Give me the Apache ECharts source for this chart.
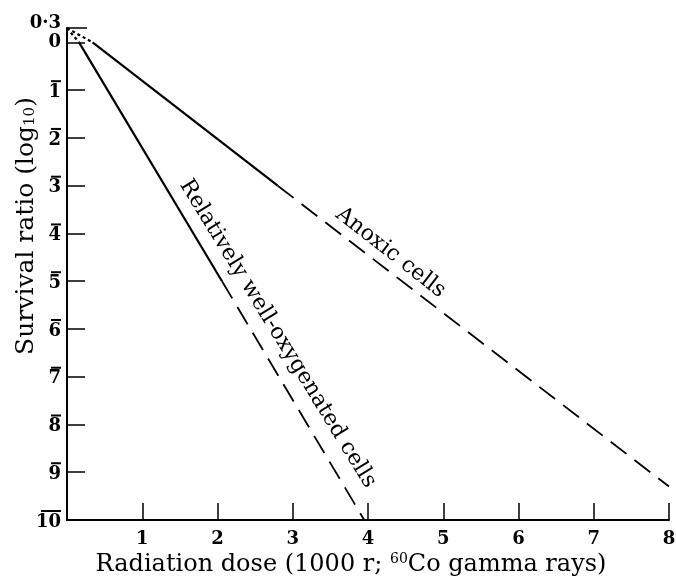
<!DOCTYPE html>
<html>
<head>
<meta charset="utf-8">
<script src="https://cdn.jsdelivr.net/npm/echarts@6/dist/echarts.min.js"></script>
<style>
  html, body { margin: 0; padding: 0; background: #fff; }
  #chart { width: 676px; height: 581px; }
</style>
</head>
<body>
<div id="chart"></div>
<script>
// values (x: dose in 1000 r, y: log10 survival ratio)
const yTicks = [-10, -9, -8, -7, -6, -5, -4, -3, -2, -1, 0]
const yTopTick = [0.3]
const xTicks = [1, 2, 3, 4, 5, 6, 7, 8]

const oxyDotted = [[0, 0.3], [0.16, 0]]
const oxySolid = [[0.16, 0], [2.06, -5]]
const oxyDashed = [[2.06, -5], [3.95, -10]]

const anoxDotted = [[0, 0.3], [0.34, 0]]
const anoxSolid = [[0.34, 0], [2.8, -3]]
const anoxDashed = [[2.8, -3], [8, -9.3]]

const FONT = 'DejaVu Serif'
const Y_MIN = -10
const Y_MAX = 0.302

// log notation: negative characteristic written with a bar over it
function barLabel (v) {
  if (Math.abs(v - 0.3) < 1e-6) return '{top|0·3}'
  if (v === 0) return '{num|0}'
  const n = String(-v)
  return '{bar' + n.length + '|}\n{num|' + n + '}'
}

const labelRich = {
  num: { fontFamily: FONT, fontSize: 18, fontWeight: 'bold', color: '#000', lineHeight: 18, align: 'right' },
  top: { fontFamily: FONT, fontSize: 18, fontWeight: 'bold', color: '#000', lineHeight: 18, align: 'right', padding: [0, 0, 10, 0] },
  bar1: { width: 10, height: 2, backgroundColor: '#000', align: 'right', lineHeight: 4 },
  bar2: { width: 20, height: 2, backgroundColor: '#000', align: 'right', lineHeight: 4 }
}

function lineSeries (data, type, width) {
  return {
    type: 'line',
    data: data,
    symbol: 'none',
    silent: true,
    lineStyle: {
      color: '#000',
      width: width,
      type: type,
      cap: 'butt'
    }
  }
}

const chart = echarts.init(document.getElementById('chart'))
chart.setOption({
  animation: false,
  backgroundColor: '#fff',
  grid: { left: 67, right: 7, top: 28, bottom: 61, outerBoundsMode: 'none', containLabel: false },
  xAxis: {
    type: 'value',
    min: 0,
    max: 8,
    interval: 1,
    name: 'Radiation dose (1000 r; {sup|60}Co gamma rays)',
    nameLocation: 'middle',
    nameGap: 32,
    nameMoveOverlap: false,
    nameTextStyle: {
      fontFamily: FONT, fontSize: 24, color: '#000',
      padding: [0, 34, 0, 0],
      rich: { sup: { fontFamily: FONT, fontSize: 14, verticalAlign: 'top', padding: [0, 0, 12, 0], color: '#000' } }
    },
    axisLine: { onZero: false, lineStyle: { color: '#000', width: 2 } },
    axisTick: { inside: true, length: 17, customValues: xTicks, lineStyle: { color: '#000', width: 1.5 } },
    axisLabel: {
      customValues: xTicks,
      margin: 10,
      fontFamily: FONT, fontSize: 18, fontWeight: 'bold', color: '#000'
    },
    splitLine: { show: false }
  },
  yAxis: [
    {
      type: 'value',
      min: Y_MIN,
      max: Y_MAX,
      name: 'Survival ratio (log{sub|10})',
      nameLocation: 'middle',
      nameRotate: 90,
      nameGap: 28,
      nameMoveOverlap: false,
      nameTextStyle: {
        fontFamily: FONT, fontSize: 25, color: '#000',
        padding: [0, 0, 0, 96],
        rich: { sub: { fontFamily: FONT, fontSize: 15, color: '#000', padding: [8, 0, 0, 0] } }
      },
      axisLine: { onZero: false, lineStyle: { color: '#000', width: 2 } },
      axisTick: { inside: true, length: 18, customValues: yTicks, lineStyle: { color: '#000', width: 1.5 } },
      axisLabel: {
        customValues: yTicks,
        margin: 6,
        hideOverlap: false,
        formatter: barLabel,
        rich: labelRich
      },
      splitLine: { show: false }
    },
    {
      // the 0·3 mark at the top sits too close to 0 to share one axis
      type: 'value',
      position: 'left',
      offset: 0,
      min: Y_MIN,
      max: Y_MAX,
      axisLine: { show: false, onZero: false },
      axisTick: { inside: true, length: 20, customValues: yTopTick, lineStyle: { color: '#000', width: 1.5 } },
      axisLabel: {
        customValues: yTopTick,
        margin: 6,
        hideOverlap: false,
        formatter: barLabel,
        rich: labelRich
      },
      splitLine: { show: false }
    }
  ],
  series: [
    lineSeries(oxyDotted, [3, 3], 2.2),
    lineSeries(oxySolid, 'solid', 2.2),
    lineSeries(oxyDashed, [20, 10], 1.8),
    lineSeries(anoxDotted, [3, 3], 2.2),
    lineSeries(anoxSolid, 'solid', 2.2),
    lineSeries(anoxDashed, [20, 10], 1.8)
  ]
})

// curve labels placed along the lines, positioned through the axes
const a = chart.convertToPixel({ gridIndex: 0 }, [4.3, -4.4])
const o = chart.convertToPixel({ gridIndex: 0 }, [2.8, -6.1])
chart.setOption({
  graphic: [
    {
      type: 'text', x: a[0], y: a[1], rotation: -38 * Math.PI / 180,
      style: { text: 'Anoxic cells', font: '22px "DejaVu Serif"', fill: '#000', align: 'center', verticalAlign: 'middle' }
    },
    {
      type: 'text', x: o[0], y: o[1], rotation: -58.5 * Math.PI / 180,
      style: { text: 'Relatively well-oxygenated cells', font: '22px "DejaVu Serif"', fill: '#000', align: 'center', verticalAlign: 'middle' }
    }
  ]
})
</script>
</body>
</html>
